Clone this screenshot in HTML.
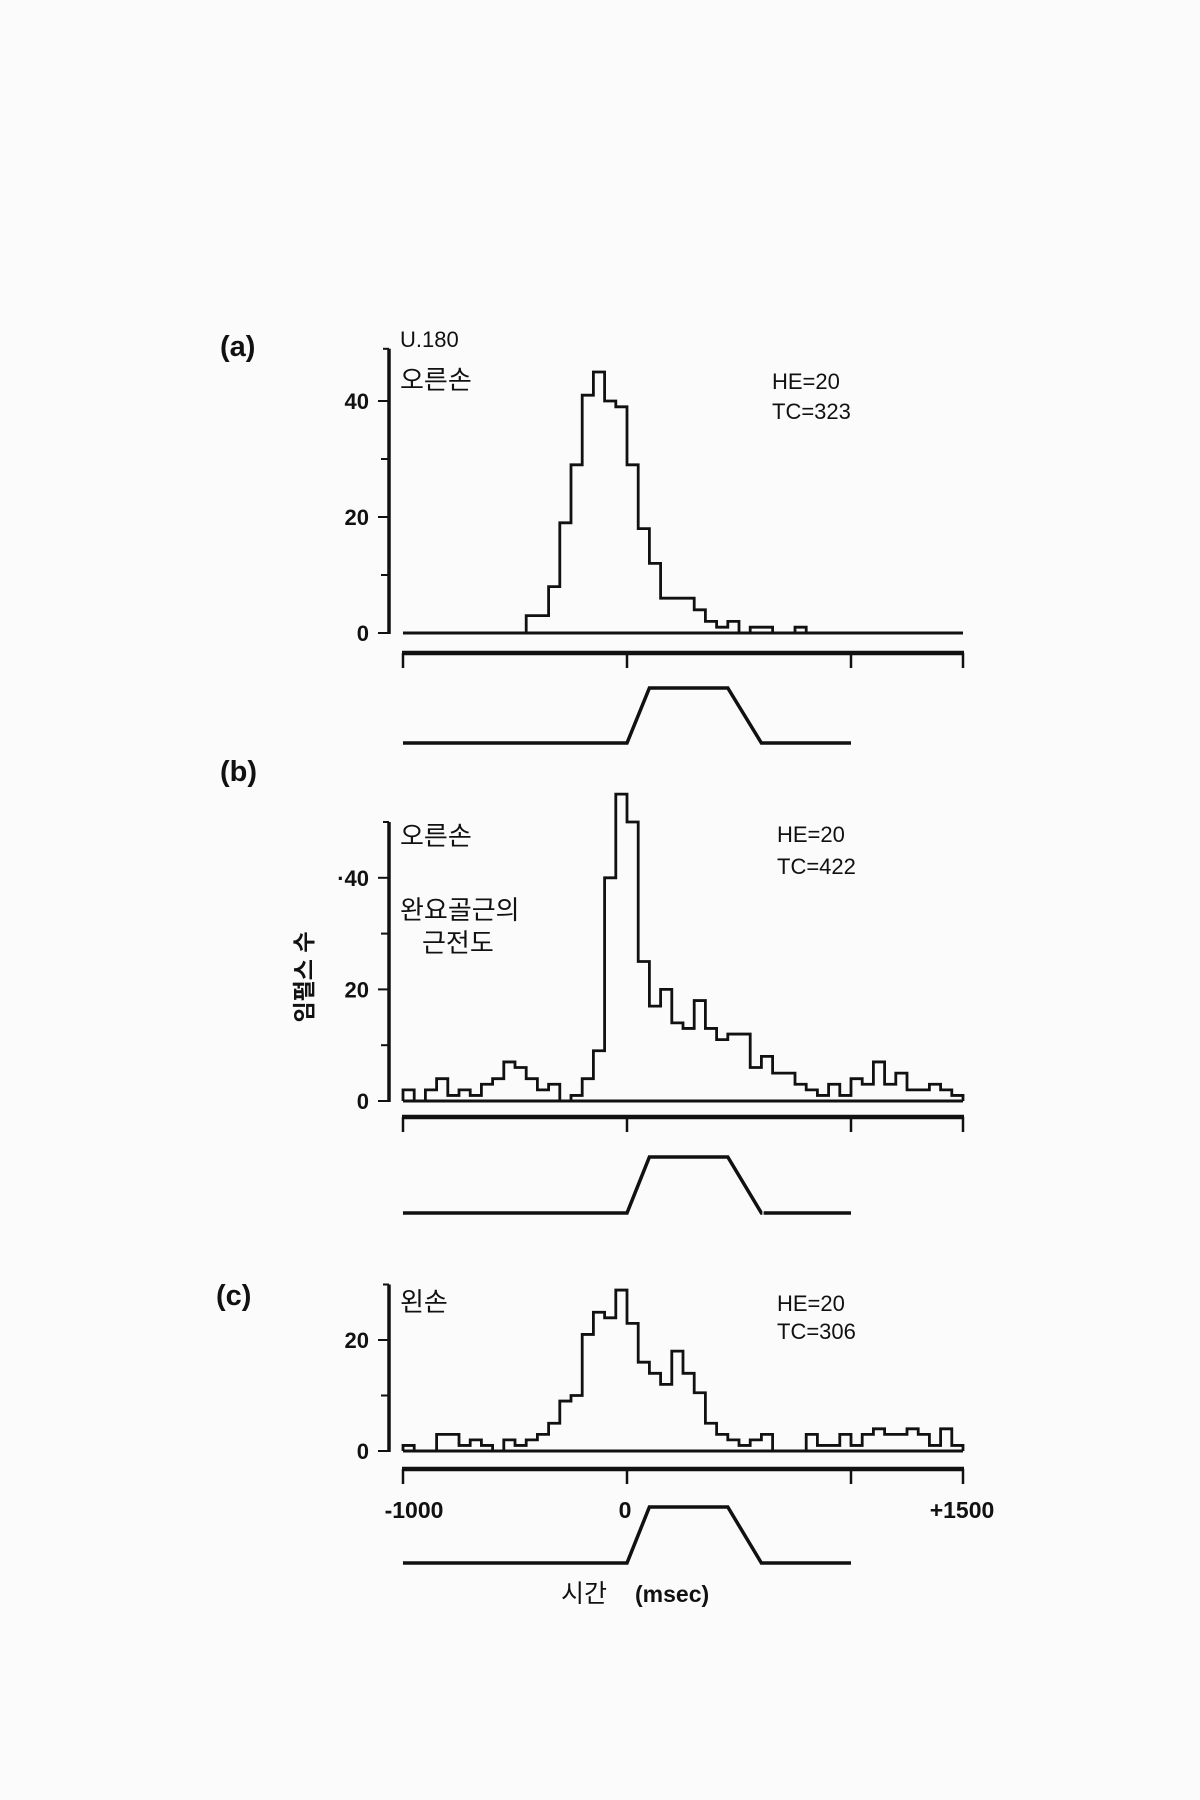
<!DOCTYPE html>
<html><head><meta charset="utf-8">
<style>
html,body{margin:0;padding:0;background:#fbfbfb;}
svg{display:block;}
text{font-family:"Liberation Sans","Noto Sans CJK KR",sans-serif;fill:#111;}
</style></head>
<body>
<svg id="fig" width="1200" height="1800" viewBox="0 0 1200 1800" xmlns="http://www.w3.org/2000/svg">
<rect x="0" y="0" width="1200" height="1800" fill="#fbfbfb"/>
<g font-weight="bold">
<text x="220" y="356" font-size="29">(a)</text>
<text x="400" y="347" font-size="22" font-weight="normal">U.180</text>
<text x="400" y="389" font-size="26" font-weight="normal">오른손</text>
<text x="772" y="389" font-size="22" font-weight="normal">HE=20</text>
<text x="772" y="419" font-size="22" font-weight="normal">TC=323</text>

<text x="220" y="781" font-size="29">(b)</text>
<text x="400" y="845" font-size="26" font-weight="normal">오른손</text>
<text x="400" y="919" font-size="26" font-weight="normal">완요골근의</text>
<text x="422" y="952" font-size="26" font-weight="normal">근전도</text>
<text x="777" y="842" font-size="22" font-weight="normal">HE=20</text>
<text x="777" y="874" font-size="22" font-weight="normal">TC=422</text>
<text transform="translate(312,977) rotate(-90)" text-anchor="middle" font-size="23">임펄스 수</text>

<text x="216" y="1305" font-size="29">(c)</text>
<text x="400" y="1311" font-size="26" font-weight="normal">왼손</text>
<text x="777" y="1311" font-size="22" font-weight="normal">HE=20</text>
<text x="777" y="1339" font-size="22" font-weight="normal">TC=306</text>

<text x="414" y="1518" text-anchor="middle" font-size="23">-1000</text>
<text x="625" y="1518" text-anchor="middle" font-size="23">0</text>
<text x="962" y="1518" text-anchor="middle" font-size="23">+1500</text>
<text x="561" y="1602" font-size="25" font-weight="normal">시간</text>
<text x="635" y="1602" font-size="23">(msec)</text>
</g>
<g id="charts"></g>
</svg>
<script>
const binStarts = [-1000,-950,-900,-850,-800,-750,-700,-650,-600,-550,-500,-450,-400,-350,-300,-250,-200,-150,-100,-50,0,50,100,150,200,250,300,350,400,450,500,550,600,650,700,750,800,850,900,950,1000,1050,1100,1150,1200,1250,1300,1350,1400,1450];
const countsA = [0,0,0,0,0,0,0,0,0,0,0,3,3,8,19,29,41,45,40,39,29,18,12,6,6,6,4,2,1,2,0,1,1,0,0,1,0,0,0,0,0,0,0,0,0,0,0,0,0,0];
const countsB = [2,0,2,4,1,2,1,3,4,7,6,4,2,3,0,1,4,9,40,55,50,25,17,20,14,13,18,13,11,12,12,6,8,5,5,3,2,1,3,1,4,3,7,3,5,2,2,3,2,1];
const countsC = [1,0,0,3,3,1,2,1,0,2,1,2,3,5,9,10,21,25,24,29,23,16,14,12,18,14,10.5,5,3,2,1,2,3,0,0,0,3,1,1,3,1,3,4,3,3,4,3,1,4,1];
const yTicksA = [0,20,40];
const yTicksB = [0,20,40];
const yTicksC = [0,20];
const xTickTimes = [-1000,0,1000,1500];
const stimTimes = [-1000,0,100,450,600,1000];
const stimLevels = [0,0,1,1,0,0];
const binWidth = 50;

const NS = "http://www.w3.org/2000/svg";
const root = document.getElementById('charts');
const xScale = t => 403 + (t + 1000) * 0.224;

function mk(tag, attrs, parent){
  const el = document.createElementNS(NS, tag);
  for (const k in attrs) el.setAttribute(k, attrs[k]);
  parent.appendChild(el);
  return el;
}

function drawPanel(id, counts, yTicks, zeroY, pxUnit, topVal, minorTicks, barY, stimLowY, stimHighY, gap){
  const g = mk('g', {}, root);
  
  
  const yScale = v => zeroY - v * pxUnit;
  const ax = mk('line', {x1:389, x2:389, y1:yScale(topVal), y2:zeroY+1, stroke:'#111','stroke-width':3.5}, g);
  
  
  mk('line', {x1:383, x2:389, y1:yScale(topVal), y2:yScale(topVal), stroke:'#111','stroke-width':2}, g);
  minorTicks.forEach(v => { mk('line', {x1:381, x2:389, y1:yScale(v), y2:yScale(v), stroke:'#111','stroke-width':2}, g); });
  yTicks.forEach(v => {
    mk('line', {x1:378, x2:389, y1:yScale(v), y2:yScale(v), stroke:'#111','stroke-width':2}, g);
    const t = mk('text', {x:369, y:yScale(v)+8, 'text-anchor':'end','font-size':22,'font-weight':'bold'}, g);
    t.textContent = (id==='b' && v===40 ? '·40' : String(v));
    
    
  });
  mk('line', {x1:xScale(-1000), x2:xScale(1500), y1:zeroY, y2:zeroY, stroke:'#111','stroke-width':3}, g);
  let d = 'M' + xScale(binStarts[0]) + ' ' + zeroY;
  counts.forEach((c, i) => {
    const x0 = xScale(binStarts[i]), x1 = xScale(binStarts[i] + binWidth);
    d += ' L' + x0 + ' ' + yScale(c) + ' L' + x1 + ' ' + yScale(c);
  });
  d += ' L' + xScale(1500) + ' ' + zeroY;
  const h = mk('path', {d:d, fill:'none', stroke:'#111','stroke-width':2.8,'stroke-linejoin':'miter'}, g);
  
  
  const bar = mk('line', {x1:xScale(-1000)-1, x2:xScale(1500)+1, y1:barY, y2:barY, stroke:'#111','stroke-width':4.5}, g);
  
  
  xTickTimes.forEach(t => { mk('line', {x1:xScale(t), x2:xScale(t), y1:barY, y2:barY+15, stroke:'#111','stroke-width':2.5}, g); });
  let sd = '';
  stimTimes.forEach((t, i) => {
    const y = stimLevels[i] ? stimHighY : stimLowY;
    sd += (i===0 ? 'M' : ' L') + xScale(t) + ' ' + y;
  });
  const s = mk('path', {d:sd, fill:'none', stroke:'#111','stroke-width':3.5}, g);
  
  
  if (gap) mk('line', {x1:xScale(600)+1, x2:xScale(610), y1:stimLowY, y2:stimLowY, stroke:'#fbfbfb','stroke-width':6}, g);
}

drawPanel('a', countsA, yTicksA, 633, 5.8, 49, [10,30], 653, 743, 688, false);
drawPanel('b', countsB, yTicksB, 1101, 5.58, 50, [10,30], 1117, 1213, 1157, true);
drawPanel('c', countsC, yTicksC, 1451, 5.55, 30, [10], 1469, 1563, 1507, false);
</script>
</body></html>
